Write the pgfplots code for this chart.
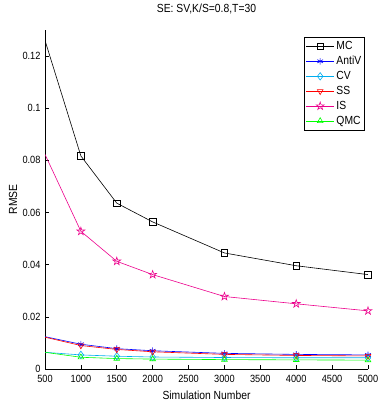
\documentclass[border=0pt]{standalone}
\usepackage{fontspec}
\setmainfont{Liberation Sans}[FakeStretch=0.88]
\usepackage{pgfplots}
\pgfplotsset{compat=1.18}
\usetikzlibrary{plotmarks}
\pgfdeclareplotmark{pentagram}{%
  \pgfpathmoveto{\pgfqpointpolar{90}{1.25\pgfplotmarksize}}%
  \pgfpathlineto{\pgfqpointpolar{126}{0.48\pgfplotmarksize}}%
  \pgfpathlineto{\pgfqpointpolar{162}{1.25\pgfplotmarksize}}%
  \pgfpathlineto{\pgfqpointpolar{198}{0.48\pgfplotmarksize}}%
  \pgfpathlineto{\pgfqpointpolar{234}{1.25\pgfplotmarksize}}%
  \pgfpathlineto{\pgfqpointpolar{270}{0.48\pgfplotmarksize}}%
  \pgfpathlineto{\pgfqpointpolar{306}{1.25\pgfplotmarksize}}%
  \pgfpathlineto{\pgfqpointpolar{342}{0.48\pgfplotmarksize}}%
  \pgfpathlineto{\pgfqpointpolar{18}{1.25\pgfplotmarksize}}%
  \pgfpathlineto{\pgfqpointpolar{54}{0.48\pgfplotmarksize}}%
  \pgfpathclose\pgfusepathqstroke}
\newcommand{\fs}{\fontsize{10.5}{11}\selectfont}
\newcommand{\fl}{\fontsize{11.8}{12}\selectfont}
\begin{document}
\begin{tikzpicture}[x=1bp,y=1bp]
\begin{axis}[
  at={(45bp,34bp)}, anchor=south west,
  scale only axis, width=323bp, height=339bp,
  xmin=500, xmax=5000, ymin=0, ymax=0.13,
  axis lines*=left,
  axis line style={line width=0.6bp, -},
  tick align=inside,
  major tick length=4bp,
  tick style={line width=0.6bp, black},
  xtick={500,1000,1500,2000,2500,3000,3500,4000,4500,5000},
  ytick={0,0.02,0.04,0.06,0.08,0.1,0.12},
  /pgf/number format/assume math mode=true,
  /pgf/number format/set thousands separator={},
  scaled y ticks=false,
  yticklabel style={/pgf/number format/fixed, /pgf/number format/precision=2},
  ticklabel style={font=\fs},
  xticklabel style={yshift=-2.5bp},
  yticklabel style={xshift=-1bp},
  xlabel={Simulation Number},
  ylabel={RMSE},
  label style={font=\fl},
  xlabel style={at={(axis description cs:0.5,-0.077)}, anchor=center},
  ylabel style={at={(axis description cs:-0.099,0.5)}, anchor=center},
  title={SE: SV,K/S=0.8,T=30},
  title style={font=\fl, at={(axis description cs:0.5,1.044)}, anchor=center},
  legend style={at={(axis description cs:0.9907,0.979)}, anchor=north east,
    draw=black, line width=0.6bp, fill=white, font=\fl,
    inner xsep=1.5bp, inner ysep=2bp, row sep=1.2bp},
  legend cell align=left,
  legend image code/.code={\draw[#1, mark repeat=2, mark phase=2] plot coordinates {(0bp,0bp) (14bp,0bp) (28bp,0bp)};},
  every axis plot/.append style={line width=0.6bp, mark size=3.3bp, mark phase=2, mark options={solid, line width=0.6bp}},
]
\addplot[black, mark=square] coordinates {(500,0.126)(1000,0.0817)(1500,0.0636)(2000,0.0564)(3000,0.0445)(4000,0.0396)(5000,0.0362)};
\addlegendentry{MC}
\addplot[blue, mark=asterisk] coordinates {(500,0.0124)(1000,0.0095)(1500,0.0078)(2000,0.0070)(3000,0.0060)(4000,0.0056)(5000,0.0054)};
\addlegendentry{AntiV}
\addplot[cyan, mark=diamond, mark size=3.7bp] coordinates {(500,0.0064)(1000,0.0054)(1500,0.0049)(2000,0.0046)(3000,0.0044)(4000,0.0043)(5000,0.0043)};
\addlegendentry{CV}
\addplot[red, mark=triangle, mark options={rotate=180}] coordinates {(500,0.0122)(1000,0.0090)(1500,0.0075)(2000,0.0066)(3000,0.0056)(4000,0.0052)(5000,0.0050)};
\addlegendentry{SS}
\addplot[magenta, mark=pentagram] coordinates {(500,0.0823)(1000,0.0528)(1500,0.0413)(2000,0.0362)(3000,0.0278)(4000,0.0250)(5000,0.0223)};
\addlegendentry{IS}
\addplot[green, mark=triangle] coordinates {(500,0.0064)(1000,0.0045)(1500,0.0040)(2000,0.0038)(3000,0.0036)(4000,0.0035)(5000,0.0034)};
\addlegendentry{QMC}
\end{axis}
\pgfresetboundingbox
\path (0,0) rectangle (380,403);
\end{tikzpicture}
\end{document}
